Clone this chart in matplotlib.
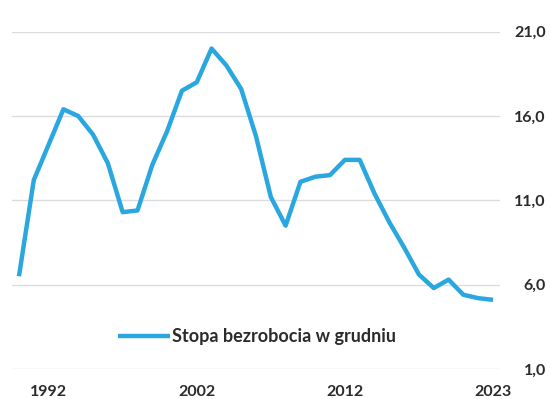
import matplotlib
matplotlib.use('Agg')
from matplotlib import pyplot as plt

# Stopa bezrobocia (grudzień)
values = [6.5, 12.2, 14.3, 16.4, 16.0, 14.9, 13.2, 10.3, 10.4, 13.1, 15.1,
          17.5, 18.0, 20.0, 19.0, 17.6, 14.8, 11.2, 9.5, 12.1, 12.4, 12.5,
          13.4, 13.4, 11.4, 9.7, 8.2, 6.6, 5.8, 6.3, 5.4, 5.2, 5.1]
x_pos = list(range(len(values)))
tick_pos = [2, 12, 22, 32]
tick_labels = ['1992', '2002', '2012', '2023']
y_ticks = [1.0, 6.0, 11.0, 16.0, 21.0]
y_labels = ['1,0', '6,0', '11,0', '16,0', '21,0']
series_name = 'Stopa bezrobocia w grudniu'

plt.rcParams['font.family'] = ['Lato', 'DejaVu Sans']

W, H = 551, 399
fig = plt.figure(figsize=(W / 100, H / 100), dpi=100)
ax = fig.add_axes([12 / W, 1 - 369 / H, 488 / W, (369 - 31.7) / H])

ax.plot(x_pos, values, color='#2aa7df', lw=3.2, solid_joinstyle='round',
        solid_capstyle='butt', label=series_name, zorder=3)

ax.set_xlim(-0.47, 32.47)
ax.set_ylim(1, 21)
ax.set_yticks(y_ticks)
ax.set_yticklabels(y_labels)
ax.set_xticks(tick_pos)
ax.set_xticklabels(tick_labels)

ax.yaxis.tick_right()
ax.grid(axis='y', color='#dcdcdc', lw=1.0)
ax.set_axisbelow(True)
for s in ax.spines.values():
    s.set_visible(False)
ax.tick_params(length=0, labelsize=11.5, labelcolor='#2b2b2b')
ax.tick_params(axis='y', pad=33)
ax.tick_params(axis='x', pad=11.5)
for t in ax.get_yticklabels():
    t.set_ha('right')
    t.set_fontweight('bold')
for t in ax.get_xticklabels():
    t.set_fontweight('bold')

leg = ax.legend(loc='center', bbox_to_anchor=(0.502, 0.095), frameon=False,
                handlelength=2.85, handletextpad=0.1, borderpad=0,
                prop={'size': 13, 'weight': 'bold'})
for t in leg.get_texts():
    t.set_color('#2b2b2b')

fig.savefig('out.png', dpi=100)
